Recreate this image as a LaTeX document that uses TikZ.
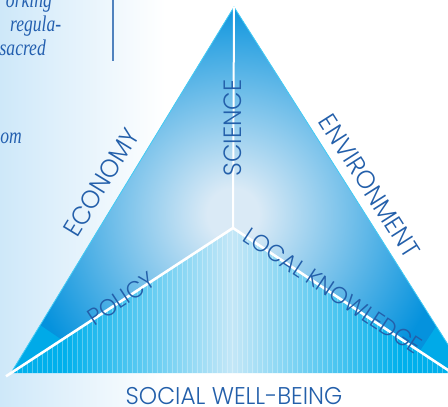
\documentclass[tikz,border=0pt]{standalone}
\usepackage{fontspec}
\usepackage{graphicx}
\newfontfamily\labfont{Poppins Light}
\newfontfamily\leftserif{Liberation Serif}
\definecolor{txtblue}{RGB}{35,95,170}
\definecolor{lefttxtblue}{RGB}{35,95,175}
\definecolor{bgblue}{RGB}{206,232,249}
\definecolor{triblue}{RGB}{5,146,221}
\definecolor{trilight}{RGB}{218,234,246}
\definecolor{lowcyan}{RGB}{0,176,236}
\definecolor{lowlight}{RGB}{196,231,247}
\definecolor{edgecyan}{RGB}{70,205,245}
\definecolor{barblue}{RGB}{80,130,190}
\definecolor{wedgecyan}{RGB}{0,170,232}
\pgfdeclareradialshading{upshade}{\pgfpoint{0bp}{0bp}}{color(0bp)=(trilight); color(3bp)=(trilight); color(25bp)=(triblue); color(50bp)=(triblue)}
\pgfdeclarehorizontalshading{lowshade}{100bp}{color(0bp)=(lowcyan); color(31bp)=(lowcyan); color(50bp)=(lowlight); color(69bp)=(lowcyan); color(100bp)=(lowcyan)}
\newcommand\lblsq[1]{\scalebox{0.96}[1]{#1}}
\newcommand\leftsq[1]{\scalebox{0.78}[1]{#1}}
\tikzset{
  lab/.style={font=\labfont\fontsize{24.2}{24}\selectfont, text=txtblue, inner sep=0pt},
  labedge/.style={font=\labfont\fontsize{25.5}{25}\selectfont, text=txtblue, inner sep=0pt},
  labsmall/.style={font=\labfont\fontsize{23.5}{23}\selectfont, text=txtblue, inner sep=0pt},
  lefttxt/.style={font=\leftserif\itshape\fontsize{22.5}{24}\selectfont, text=lefttxtblue, inner sep=0pt},
  wline/.style={white, line width=2.6pt},
}
\begin{document}
\begin{tikzpicture}[x=1pt,y=-1pt]
\useasboundingbox (0,0) rectangle (448,407);
\clip (0,0) rectangle (448,407);
\fill[white] (0,0) rectangle (448,407);
\shade[left color=bgblue, right color=white] (0,0) rectangle (165,407);
% left column text
\node[lefttxt, anchor=base east] (t1) at (52,7) {\leftsq{orking}};
\node[lefttxt, anchor=base west] (t2) at (10,31) {\leftsq{regula-}};
\node[lefttxt, anchor=base east] (t3) at (46,55) {\leftsq{sacred}};
\node[lefttxt, anchor=base east] (t4) at (22,143) {\leftsq{om}};
\draw[barblue, line width=1.3pt] (113,0) -- (113,61);
% triangle geometry
\coordinate (apex) at (234,7);
\coordinate (ctr) at (233,228);
\coordinate (bl) at (11,373);
\coordinate (br) at (466,373);
\coordinate (bm) at (453,373);
\coordinate (blx) at (6,376.3);
\coordinate (brx) at (463,380);
% upper region
\begin{scope}
  \clip (apex) -- (bl) -- (ctr) -- (bm) -- (br) -- cycle;
  \fill[triblue] (0,0) rectangle (470,380);
  \shade[shading=upshade] (233,214) circle[radius=215pt];
  \fill[wedgecyan] (bl) -- (40,325) -- (62,340) -- cycle;
  \fill[wedgecyan] (437,325) -- (br) -- (bm) -- (420,351) -- cycle;
\end{scope}
% lower region
\begin{scope}
  \clip (bl) -- (ctr) -- (bm) -- cycle;
  \shade[shading=lowshade] (bl) -- (ctr) -- (bm) -- cycle;
  \foreach \i in {0,...,90}
    \draw[white, opacity=0.3, line width=0.5pt] ({12+5*\i},220) -- ({12+5*\i},375);
\end{scope}
\draw[edgecyan, line width=0.8pt] (bl) -- (apex) -- (br);
\draw[white, line width=2pt] (apex) -- (ctr);
\draw[wline] (blx) -- (ctr) -- (brx);
% labels
\node[lab, anchor=base] (social) at (234,404.5) {\lblsq{SOCIAL WELL-BEING}};
\node[labedge, font=\labfont\fontsize{25}{25}\selectfont, rotate=90] (science) at (233,128) {\lblsq{SCIENCE}};
\node[labedge, rotate=58.6] (economy) at (101.5,182.5) {\lblsq{ECONOMY}};
\node[labedge, rotate=-57.4] (environment) at (369.5,186) {\lblsq{ENVIRONMENT}};
\node[labsmall, rotate=33.2] (policy) at (121.4,298.7) {\lblsq{POLICY}};
\node[labsmall, rotate=-33.4] (localk) at (333,291) {\lblsq{LOCAL KNOWLEDGE}};
\end{tikzpicture}
\end{document}
